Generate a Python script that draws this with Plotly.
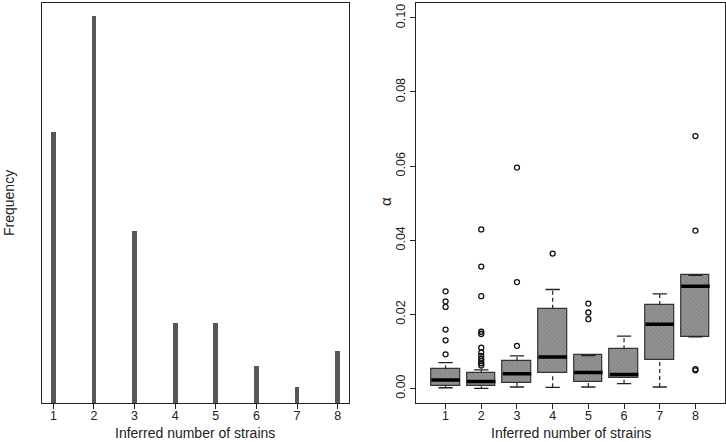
import plotly.graph_objects as go

# ---- Left panel: frequency of inferred number of strains ----
strains = [1, 2, 3, 4, 5, 6, 7, 8]
frequency = [51, 73, 32.5, 15, 15, 7, 3, 9.8]

# ---- Right panel: alpha box-plot summaries ----
q1 = [0.0007, 0.0006, 0.0016, 0.0041, 0.0018, 0.0027, 0.0077, 0.0139]
median = [0.0023, 0.0019, 0.0040, 0.0085, 0.0043, 0.0038, 0.0173, 0.0276]
q3 = [0.0052, 0.0043, 0.0074, 0.0215, 0.0089, 0.0106, 0.0225, 0.0305]
lower_whisker = [0.0002, 0.0000, 0.0004, 0.0003, 0.0004, 0.0013, 0.0004, 0.0139]
upper_whisker = [0.0070, 0.0050, 0.0088, 0.0267, 0.0089, 0.0141, 0.0255, 0.0305]
outliers = {
    1: [0.0262, 0.0235, 0.0220, 0.0159, 0.0130, 0.0092],
    2: [0.0429, 0.0329, 0.0249, 0.0153, 0.0147, 0.0110, 0.0097, 0.0088,
        0.0080, 0.0074, 0.0068, 0.0062],
    3: [0.0596, 0.0287, 0.0115],
    4: [0.0364],
    5: [0.0229, 0.0205, 0.0187],
    6: [],
    7: [],
    8: [0.0681, 0.0426, 0.0052, 0.0049],
}
y_ticks = [0.00, 0.02, 0.04, 0.06, 0.08, 0.10]

BOX_W = 0.8
CAP_W = 0.4
FONT = "Liberation Sans, Arial, Helvetica, sans-serif"
AXC = "#222222"
TXT = "#222222"

fig = go.Figure()

# left bars
fig.add_trace(go.Bar(
    x=strains, y=frequency, width=0.12, marker=dict(color="#575757", line=dict(width=0)),
    xaxis="x", yaxis="y", showlegend=False, hoverinfo="x+y"))

# right boxes (bodies)
fig.add_trace(go.Bar(
    x=strains, y=[b - a for a, b in zip(q1, q3)], base=q1, width=BOX_W,
    marker=dict(color="#8e8e8e", line=dict(color="#333333", width=1.2),
                pattern=dict(shape="\\", fgcolor="#707070", bgcolor="#939393",
                             size=3, solidity=0.3)),
    xaxis="x2", yaxis="y2", showlegend=False))

# whiskers (dashed)
wx, wy = [], []
for s, a, b, lo, hi in zip(strains, q1, q3, lower_whisker, upper_whisker):
    wx += [s, s, None, s, s, None]
    wy += [b, hi, None, lo, a, None]
fig.add_trace(go.Scatter(x=wx, y=wy, mode="lines", line=dict(color="#222222", width=1.2, dash="4px,3px"),
                         xaxis="x2", yaxis="y2", showlegend=False, hoverinfo="skip"))

# staples
cx, cy = [], []
for s, lo, hi in zip(strains, lower_whisker, upper_whisker):
    cx += [s - CAP_W / 2, s + CAP_W / 2, None, s - CAP_W / 2, s + CAP_W / 2, None]
    cy += [hi, hi, None, lo, lo, None]
fig.add_trace(go.Scatter(x=cx, y=cy, mode="lines", line=dict(color="#222222", width=1.3),
                         xaxis="x2", yaxis="y2", showlegend=False, hoverinfo="skip"))

# medians
mx, my = [], []
for s, m in zip(strains, median):
    mx += [s - BOX_W / 2, s + BOX_W / 2, None]
    my += [m, m, None]
fig.add_trace(go.Scatter(x=mx, y=my, mode="lines", line=dict(color="#000000", width=3.5),
                         xaxis="x2", yaxis="y2", showlegend=False, hoverinfo="skip"))

# outliers
ox, oy = [], []
for s in strains:
    for v in outliers[s]:
        ox.append(s)
        oy.append(v)
fig.add_trace(go.Scatter(x=ox, y=oy, mode="markers",
                         marker=dict(symbol="circle-open", size=5, color="#111111", line=dict(width=1.3)),
                         xaxis="x2", yaxis="y2", showlegend=False))

axis_common = dict(showline=True, mirror=True, linecolor=AXC, linewidth=1, showgrid=False,
                   zeroline=False, ticklen=5, tickcolor=AXC,
                   tickfont=dict(family=FONT, size=12.5, color=TXT))

fig.update_layout(
    width=726, height=442,
    margin=dict(l=0, r=0, t=0, b=0),
    paper_bgcolor="white", plot_bgcolor="white",
    bargap=0,
    xaxis=dict(domain=[42 / 726, 349 / 726], range=[0.72, 8.28], tickvals=strains,
               ticks="outside", ticklabelstandoff=-4, anchor="y", **axis_common),
    yaxis=dict(domain=[(442 - 403) / 442, (442 - 3) / 442], range=[0, 75.4],
               anchor="x", showticklabels=False, ticks="", **axis_common),
    xaxis2=dict(domain=[416.3 / 726, 724.7 / 726], range=[0.18, 8.82], tickvals=strains,
                ticks="outside", ticklabelstandoff=-4, anchor="y2", **axis_common),
    yaxis2=dict(domain=[(442 - 403.3) / 442, (442 - 3) / 442], range=[-0.004, 0.104],
                tickvals=y_ticks, ticktext=[f"{v:.2f}" for v in y_ticks], tickangle=-90,
                ticks="outside", anchor="x2", **axis_common),
    annotations=[
        dict(text="Inferred number of strains", x=(42 + 349) / 2 / 726, y=(442 - 433) / 442,
             xref="paper", yref="paper", showarrow=False, xanchor="center", yanchor="middle",
             font=dict(family=FONT, size=14, color=TXT)),
        dict(text="Frequency", x=9 / 726, y=(442 - 203) / 442, textangle=-90,
             xref="paper", yref="paper", showarrow=False, xanchor="center", yanchor="middle",
             font=dict(family=FONT, size=14, color=TXT)),
        dict(text="Inferred number of strains", x=(416.3 + 724.7) / 2 / 726, y=(442 - 433) / 442,
             xref="paper", yref="paper", showarrow=False, xanchor="center", yanchor="middle",
             font=dict(family=FONT, size=14, color=TXT)),
        dict(text="α", x=385 / 726, y=(442 - 202) / 442, textangle=-90,
             xref="paper", yref="paper", showarrow=False, xanchor="center", yanchor="middle",
             font=dict(family=FONT, size=15, color=TXT)),
    ],
)

fig.write_html("out.html", config={"displayModeBar": False},
               post_script="document.body.style.margin='0';document.body.style.overflow='hidden';")
